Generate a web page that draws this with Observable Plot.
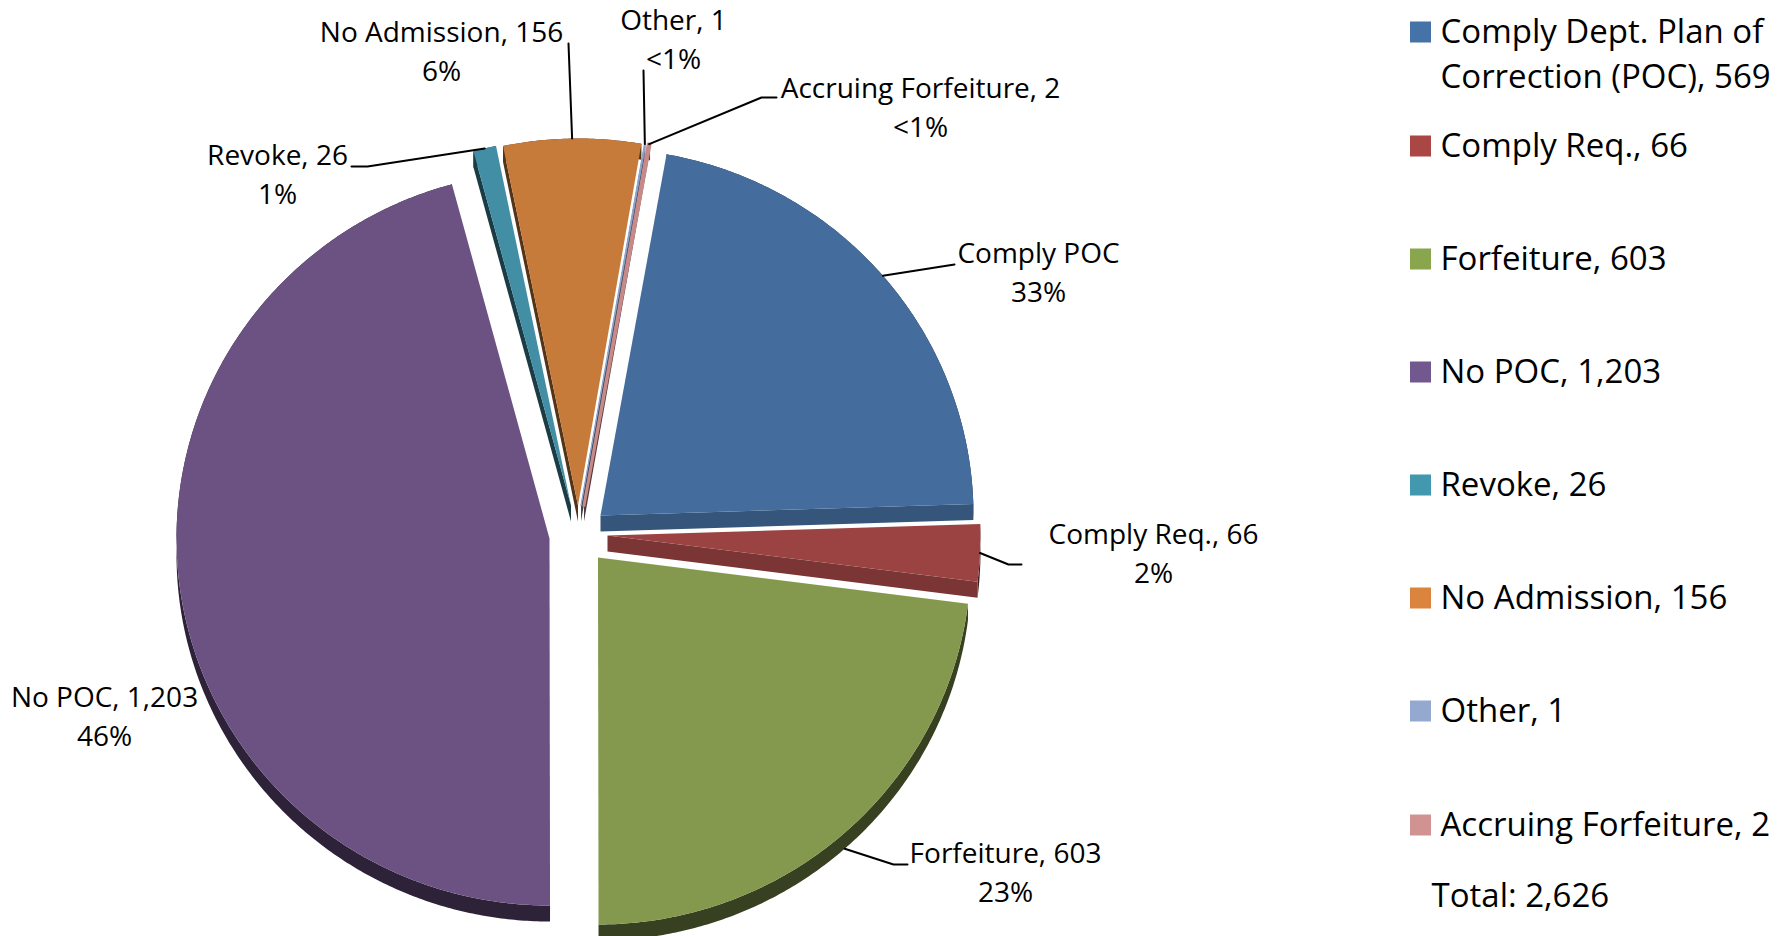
<!DOCTYPE html>
<html>
<head>
<meta charset="utf-8">
<script src="https://cdn.jsdelivr.net/npm/d3@7"></script>
<script src="https://cdn.jsdelivr.net/npm/@observablehq/plot@0.6"></script>
<style>
html,body{margin:0;padding:0;background:#fff;overflow:hidden}
svg{display:block}
</style>
</head>
<body>
<div id="chart"></div>
<script>
// data
const categories = ["Comply Dept. Plan of Correction (POC)", "Comply Req.", "Forfeiture", "No POC", "Revoke", "No Admission", "Other", "Accruing Forfeiture"];
const values = [569, 66, 603, 1203, 26, 156, 1, 2];
const legendLines = [["Comply Dept. Plan of", "Correction (POC), 569"], ["Comply Req., 66"], ["Forfeiture, 603"], ["No POC, 1,203"], ["Revoke, 26"], ["No Admission, 156"], ["Other, 1"], ["Accruing Forfeiture, 2"]];
const sliceTitles = ["Comply POC", "Comply Req., 66", "Forfeiture, 603", "No POC, 1,203", "Revoke, 26", "No Admission, 156", "Other, 1", "Accruing Forfeiture, 2"];
const slicePercents = ["33%", "2%", "23%", "46%", "1%", "6%", "<1%", "<1%"];
const totalLabel = "Total: 2,626";

// styles
const legendColors = ["#4573A7", "#AA4644", "#89A54E", "#71588F", "#4198AF", "#DB843D", "#93A9CF", "#D19392"];
const faceColors = ["#446C9C", "#9B4342", "#84994D", "#6B5282", "#428EA5", "#C77B3B", "#8FA6CC", "#C78A88"];

// layout (pixels in the 1789x936 frame)
const W = 1789, H = 936;
const rx = 373, ry = 367, depth = 16, startDeg = 10.2;
const apexX = [600, 607, 597.5, 549, 570.5, 577.5, 580.5, 583.5];
const apexY = [515, 535, 557, 538, 505, 505, 505, 505];
const labelX = [1038, 1153, 1005, 104, 277, 441, 673, 920];
const labelY = [254, 535, 854, 698, 156, 33, 21, 89];
const leaderElbows = [
  [[954, 264]],
  [[1008, 564], [1021, 564]],
  [[893, 864], [907, 864]],
  [],
  [[367, 166], [351, 166]],
  [[568, 43]],
  [[643, 70]],
  [[761, 97], [776, 97]]
];
const leaderDrop = [0, 0, depth, 0, 0, 0, 0, 0];
const legendY = [32, 146, 259, 372, 485, 598, 711, 825];
const fontSize = 28, legendFont = 33, lineStep = 39, legendStep = 45;
const sansFont = "'Open Sans', Lato, sans-serif";

const shade = (c, k) => { const r = d3.rgb(c); return d3.rgb(r.r * k, r.g * k, r.b * k).formatHex(); };

// angles from the values
const total = d3.sum(values);
let run = startDeg;
const slices = categories.map((name, i) => {
  const a0 = run, a1 = run + values[i] / total * 360;
  run = a1;
  return {name, i, a0, a1, cx: apexX[i], cy: apexY[i]};
});
const rim = (s, deg) => {
  const t = deg * Math.PI / 180;
  return [s.cx + rx * Math.sin(t), s.cy - ry * Math.cos(t)];
};
const arc = (s) => {
  const n = Math.max(2, Math.ceil((s.a1 - s.a0) / 0.5));
  return d3.range(n + 1).map(k => rim(s, s.a0 + (s.a1 - s.a0) * k / n));
};

const faces = [], walls = [];
for (const s of slices) {
  const pts = arc(s);
  const id = s.i;
  // outer rim wall
  const outer = [...pts, ...pts.slice().reverse().map(([x, y]) => [x, y + depth])];
  outer.forEach(([x, y]) => walls.push({id: id + "r", order: id, x, y, fill: shade(faceColors[id], 0.42)}));
  // radial wall seen below the closing edge (right half) or the opening edge (upper left)
  const edgeDeg = s.a0 > 300 ? s.a0 : s.a1;
  if (s.a1 < 120 || s.a0 > 300) {
    const [ex, ey] = rim(s, edgeDeg);
    const k = s.a0 > 300 ? 0.42 : 0.79;
    [[s.cx, s.cy], [ex, ey], [ex, ey + depth], [s.cx, s.cy + depth]]
      .forEach(([x, y]) => walls.push({id: id + "e", order: id, x, y, fill: shade(faceColors[id], k)}));
  }
  [[s.cx, s.cy], ...pts].forEach(([x, y]) => faces.push({id, x, y, fill: faceColors[id]}));
}

const leaders = slices.flatMap(s => {
  const el = leaderElbows[s.i];
  if (!el.length) return [];
  const [x, y] = rim(s, (s.a0 + s.a1) / 2);
  return [[x, y + leaderDrop[s.i]], ...el].map(([px, py]) => ({id: s.i, x: px, y: py}));
});

const labelRows = categories.flatMap((_, i) => [
  {t: sliceTitles[i], x: labelX[i], y: labelY[i]},
  {t: slicePercents[i], x: labelX[i], y: labelY[i] + lineStep}
]);
const legendRows = legendLines.flatMap((lines, i) => lines.map((t, k) => ({t, x: 1440, y: legendY[i] + k * legendStep})));
legendRows.push({t: totalLabel, x: 1431, y: 896});
const swatches = legendColors.map((fill, i) => ({fill, x1: 1410, x2: 1431, y1: legendY[i] - 10.5, y2: legendY[i] + 10.5}));

const chart = Plot.plot({
  width: W, height: H,
  margin: 0,
  x: {domain: [0, W], range: [0, W], axis: null},
  y: {domain: [0, H], range: [0, H], axis: null},
  color: {type: "identity"},
  style: {fontFamily: sansFont, background: "#fff", color: "#000"},
  marks: [
    Plot.line(walls, {x: "x", y: "y", z: "id", fill: "fill", stroke: "none", curve: "linear-closed"}),
    Plot.line(faces, {x: "x", y: "y", z: "id", fill: "fill", stroke: "none", curve: "linear-closed"}),
    Plot.line(faces.filter(d => d.id === 6), {x: "x", y: "y", z: "id", stroke: "fill", strokeWidth: 1, fill: "fill", curve: "linear-closed"}),
    Plot.line(faces.filter(d => d.id === 7), {x: "x", y: "y", z: "id", stroke: "fill", strokeWidth: 3, fill: "fill", curve: "linear-closed"}),
    Plot.line(leaders, {x: "x", y: "y", z: "id", stroke: "#000", strokeWidth: 2, curve: "linear"}),
    Plot.text(labelRows, {x: "x", y: "y", text: "t", fontSize, fill: "#000", textAnchor: "middle", lineAnchor: "middle"}),
    Plot.rect(swatches, {x1: "x1", x2: "x2", y1: "y1", y2: "y2", fill: "fill", inset: 0}),
    Plot.text(legendRows, {x: "x", y: "y", text: "t", fontSize: legendFont, fill: "#000", textAnchor: "start", lineAnchor: "middle"})
  ]
});
document.getElementById("chart").appendChild(chart);
</script>
</body>
</html>
